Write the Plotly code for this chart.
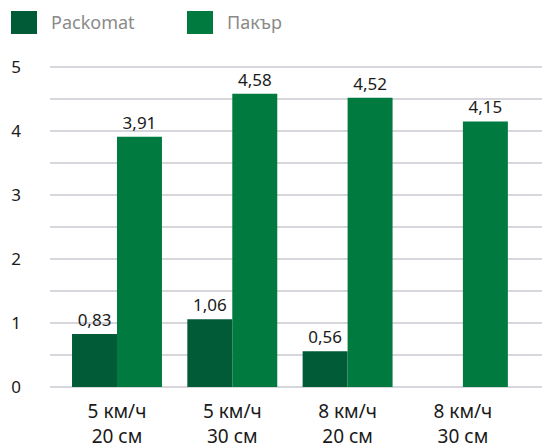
import plotly.graph_objects as go

categories = ["5 км/ч<br>20 см", "5 км/ч<br>30 см", "8 км/ч<br>20 см", "8 км/ч<br>30 см"]
packomat = [0.83, 1.06, 0.56, None]
pakar = [3.91, 4.58, 4.52, 4.15]
series_names = ["Packomat", "Пакър"]
colors = ["#025B37", "#017A3F"]

FONT = "Noto Sans"

fig = go.Figure()
for name, vals, col in zip(series_names, [packomat, pakar], colors):
    fig.add_trace(go.Bar(
        x=categories, y=vals, name=name, marker_color=col, marker_line_width=0,
        text=[None if v is None else f"{v:.2f}".replace(".", ",") for v in vals],
        textposition="outside", cliponaxis=False, constraintext="none",
        textfont=dict(family=FONT, size=17, color="#1a1a1a"),
        showlegend=False,
    ))

# legend swatches and labels
legend_x = [11, 187]
for i, (name, col) in enumerate(zip(series_names, colors)):
    x0 = legend_x[i]
    fig.add_shape(type="rect", xref="paper", yref="paper",
                  x0=(x0 - 50) / 492, x1=(x0 + 26 - 50) / 492,
                  y0=(387 - 34) / 327, y1=(387 - 11) / 327,
                  fillcolor=col, line_width=0)
    fig.add_annotation(xref="paper", yref="paper", x=(x0 + 38 - 50) / 492,
                       y=(387 - 22.5) / 327, text=name, showarrow=False,
                       xanchor="left", yanchor="middle",
                       font=dict(family=FONT, size=18, color="#8a8a8a"))

fig.update_layout(
    width=542, height=448,
    margin=dict(l=50, r=0, t=60, b=61),
    paper_bgcolor="white", plot_bgcolor="white",
    barmode="group", bargap=0.22, bargroupgap=0,
    font=dict(family=FONT, color="#1a1a1a"),
    xaxis=dict(range=[-0.581, 3.686], showgrid=False, zeroline=False, showline=False,
               tickfont=dict(family=FONT, size=19, color="#1a1a1a"),
               ticks="", ticklabelstandoff=11, automargin=False),
    yaxis=dict(range=[0, 5.109], dtick=1, tick0=0, showgrid=True,
               gridcolor="#d6d6dc", gridwidth=1.5, zeroline=True,
               zerolinecolor="#d6d6dc", zerolinewidth=1.5, showline=False,
               tickfont=dict(family=FONT, size=17, color="#1a1a1a"),
               ticks="", ticklabelstandoff=28, automargin=False,
               minor=dict(dtick=0.5, showgrid=True, gridcolor="#d6d6dc", gridwidth=1.5)),
)

fig.write_html("out.html")
